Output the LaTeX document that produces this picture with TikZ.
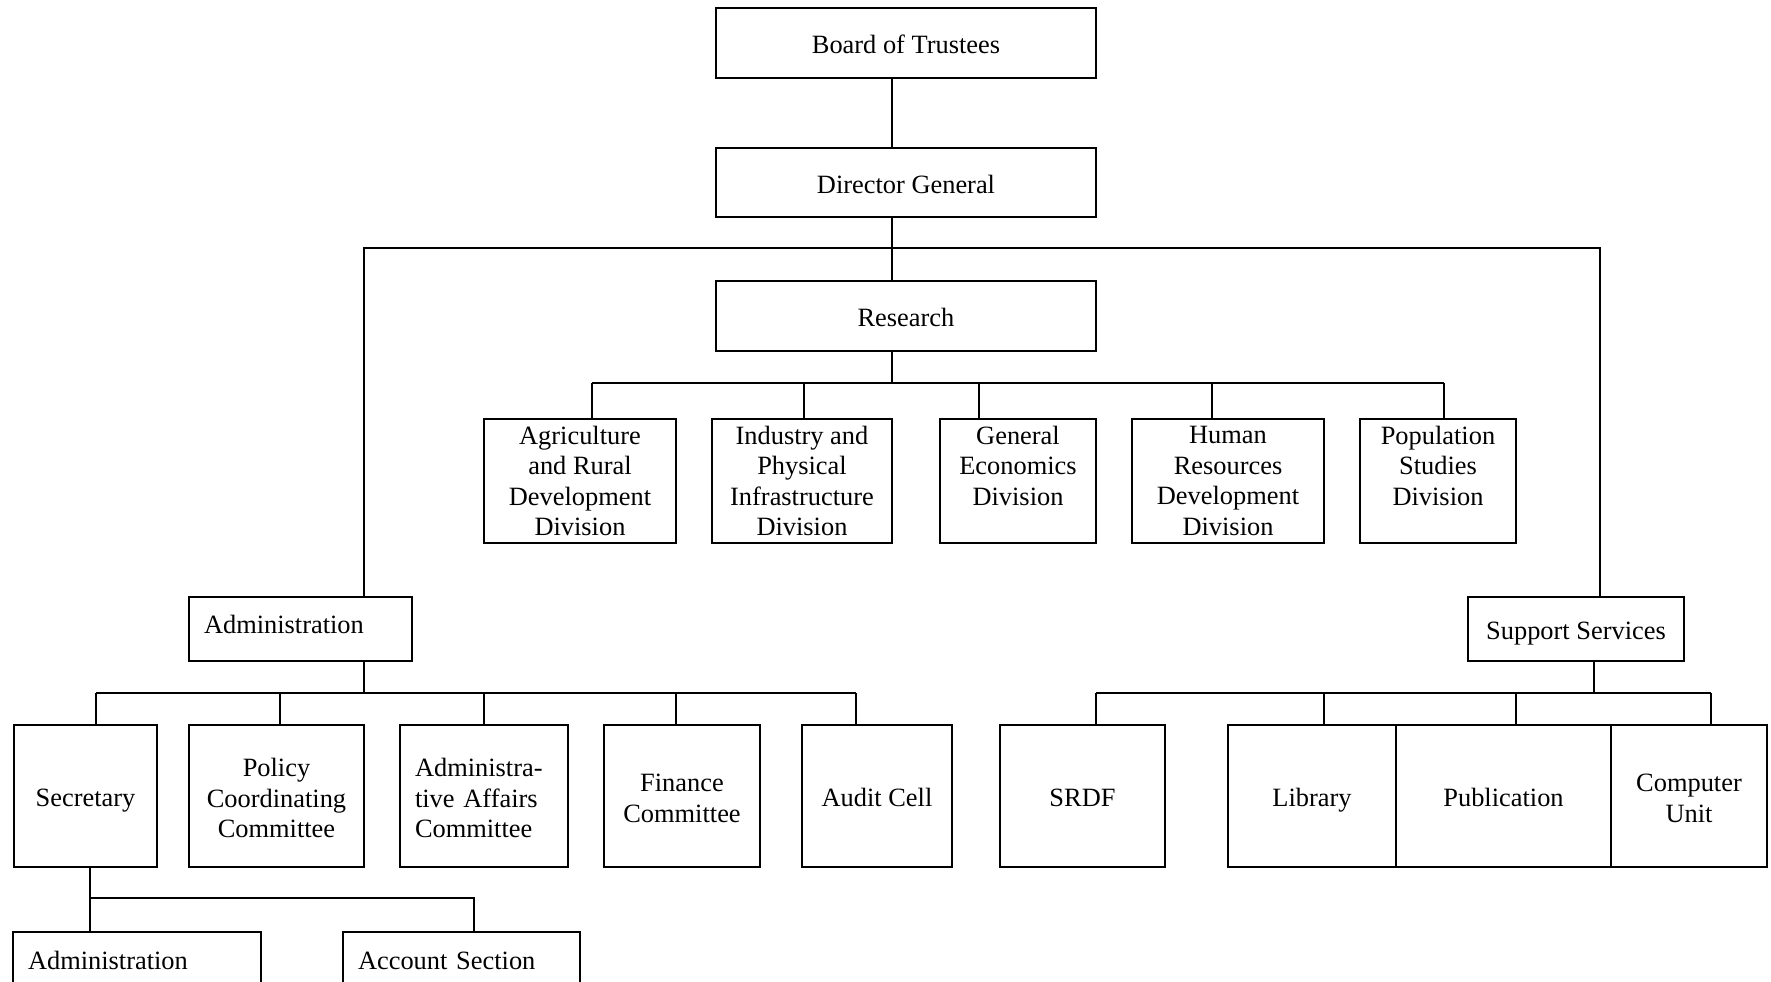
\documentclass[tikz,border=0pt]{standalone}
\usepackage{fontspec}
\setmainfont{Liberation Serif}
\newcommand{\orgbox}[7][]{%
  \node[box,#1,minimum width={(#5-#3)*0.5pt},minimum height={(#6-#4)*0.5pt}] (#2) at ({(#3+#5)/2},{(#4+#6)/2}) {#7};}
\newcommand{\tallstrut}{\rule{0pt}{11.3pt}}
\tikzset{
  box/.style={draw,line width=0.9pt,inner sep=0pt,align=center,font=\fontsize{13.2}{15.25}\selectfont},
  one/.style={text height=10.5pt,text depth=0pt},
  leftbox/.style={align=left,inner xsep=7.5pt,text width={#1*0.5pt}},
  link/.style={line width=0.9pt}
}
\begin{document}
\begin{tikzpicture}[x=0.5pt,y=-0.5pt]
\useasboundingbox (0,0) rectangle (1771,981);
\fill[white] (0,0) rectangle (1771,981);
\clip (0,0) rectangle (1771,981);
% top
\orgbox[one]{board}{716}{8}{1096}{78}{Board of Trustees}
\orgbox[one]{dg}{716}{148}{1096}{217}{Director General}
\orgbox[one]{research}{716}{281}{1096}{351}{Research}
% divisions
\orgbox{agri}{484}{419}{676}{543}{Agriculture\\and Rural\\Development\\Division}
\orgbox{ind}{712}{419}{892}{543}{Industry and\\Physical\\Infrastructure\\Division}
\orgbox{gen}{940}{419}{1096}{543}{General\\Economics\\Division\\\mbox{}}
\orgbox{hum}{1132}{419}{1324}{543}{Human\\Resources\\Development\\Division}
\orgbox{pop}{1360}{419}{1516}{543}{Population\\Studies\\Division\\\mbox{}}
% admin / support
\orgbox[leftbox=193,text height=8.8pt,text depth=4.5pt]{adm}{189}{597}{412}{661}{Administration}
\orgbox[one]{sup}{1468}{597}{1684}{661}{Support Services}
% admin children
\orgbox[one]{sec}{14}{725}{157}{867}{Secretary}
\orgbox{pol}{189}{725}{364}{867}{\tallstrut Policy\\Coordinating\\Committee}
\orgbox[leftbox=138]{aff}{400}{725}{568}{867}{\tallstrut Administra-\\tive Affairs\\Committee}
\orgbox{fin}{604}{725}{760}{867}{\tallstrut Finance\\Committee}
\orgbox[one]{aud}{802}{725}{952}{867}{Audit Cell}
% support children
\orgbox[one]{srdf}{1000}{725}{1165}{867}{SRDF}
\orgbox[one]{lib}{1228}{725}{1396}{867}{Library}
\orgbox[one]{pub}{1396}{725}{1611}{867}{Publication}
\orgbox{comp}{1611}{725}{1767}{867}{\tallstrut Computer\\Unit}
% secretary children
\orgbox[one,leftbox=218]{sadm}{14}{932}{260}{986}{Administration}
\orgbox[one,leftbox=207]{acc}{343}{932}{580}{986}{Account Section}
% trunk
\coordinate (j1) at (892,248);
\coordinate (jl) at (364,248);
\coordinate (jr) at (1600,248);
\draw[link] (board.south -| j1) -- (dg.north -| j1);
\draw[link] (dg.south -| j1) -- (research.north -| j1);
\draw[link] (adm.north -| jl) -- (jl) -- (jr) -- (sup.north -| jr);
% research branch
\coordinate (r0) at (892,383);
\coordinate (ra) at (592,383);
\coordinate (rb) at (804,383);
\coordinate (rc) at (979,383);
\coordinate (rd) at (1212,383);
\coordinate (re) at (1444,383);
\draw[link] (research.south -| r0) -- (r0);
\draw[link] (ra) -- (re);
\draw[link] (ra) -- (ra |- agri.north);
\draw[link] (rb) -- (rb |- ind.north);
\draw[link] (rc) -- (rc |- gen.north);
\draw[link] (rd) -- (rd |- hum.north);
\draw[link] (re) -- (re |- pop.north);
% admin branch
\coordinate (a0) at (364,693);
\coordinate (a1) at (96,693);
\coordinate (a2) at (280,693);
\coordinate (a3) at (484,693);
\coordinate (a4) at (676,693);
\coordinate (a5) at (856,693);
\draw[link] (adm.south -| a0) -- (a0);
\draw[link] (a1) -- (a5);
\draw[link] (a1) -- (a1 |- sec.north);
\draw[link] (a2) -- (a2 |- pol.north);
\draw[link] (a3) -- (a3 |- aff.north);
\draw[link] (a4) -- (a4 |- fin.north);
\draw[link] (a5) -- (a5 |- aud.north);
% support branch
\coordinate (s0) at (1594,693);
\coordinate (s1) at (1096,693);
\coordinate (s2) at (1324,693);
\coordinate (s3) at (1516,693);
\coordinate (s4) at (1711,693);
\draw[link] (sup.south -| s0) -- (s0);
\draw[link] (s1) -- (s4);
\draw[link] (s1) -- (s1 |- srdf.north);
\draw[link] (s2) -- (s2 |- lib.north);
\draw[link] (s3) -- (s3 |- pub.north);
\draw[link] (s4) -- (s4 |- comp.north);
% secretary branch
\coordinate (c1) at (90,898);
\coordinate (c2) at (474,898);
\draw[link] (sec.south -| c1) -- (c1) -- (c2) -- (acc.north -| c2);
\draw[link] (c1) -- (c1 |- sadm.north);
\end{tikzpicture}
\end{document}
